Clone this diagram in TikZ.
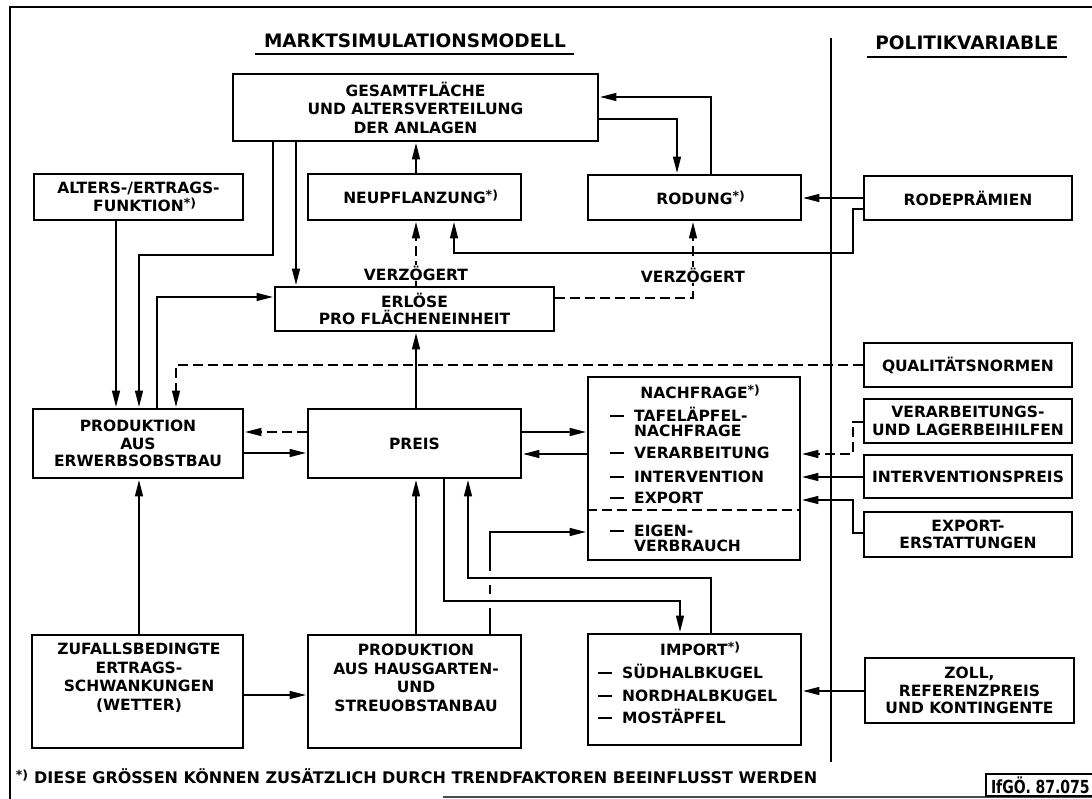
\documentclass[tikz,border=0pt]{standalone}
\usepackage{fontspec}
\setmainfont{DejaVu Sans}
\usetikzlibrary{arrows.meta}
\newcommand{\fnm}{\rlap{\raisebox{4pt}{\fontsize{12.5}{12.5}\selectfont *)}}}
\newcommand{\itm}[1]{\rule[4.5pt]{14pt}{2.4pt}\hspace{10pt}#1}
\begin{document}
\begin{tikzpicture}[x=1pt,y=-1pt,
  every node/.style={font=\bfseries\fontsize{15.5}{17.5}\selectfont, inner sep=0pt},
  box/.style={draw, line width=2.7pt, align=center},
  ln/.style={line width=2.7pt},
  arr/.style={ln, -{Triangle[length=17pt,width=7.5pt]}},
  dsh/.style={dash pattern=on 10pt off 5pt},
  ttl/.style={anchor=base, font=\bfseries\fontsize{18.5}{18.5}\selectfont},
  itm/.style={anchor=base west},
]
\useasboundingbox (0,0) rectangle (1092,799);
% frame
\draw[line width=2.7pt] (1100,7) -- (10,7) -- (10,799);
\draw[line width=2pt, black!70] (443,797) -- (1100,797);
% titles
\node[ttl] (t1) at (415,48) {MARKTSIMULATIONSMODELL};
\draw[ln] (255,54) -- (574,54);
\node[ttl] (t2) at (967,50) {POLITIKVARIABLE};
\draw[ln] (867,57) -- (1067,57);
\draw[ln] (831,38) -- (831,762);
% boxes
\node[box, minimum width=365pt, minimum height=67pt, font=\bfseries\fontsize{15.5}{18.5}\selectfont] (gesamt) at (415.5,107.5) {GESAMTFLÄCHE\\UND ALTERSVERTEILUNG\\DER ANLAGEN};
\node[box, minimum width=209pt, minimum height=46pt] (alters) at (138.5,197) {ALTERS-/ERTRAGS-\\FUNKTION\fnm};
\node[box, minimum width=213pt, minimum height=46pt] (neu) at (414.5,197) {NEUPFLANZUNG\fnm};
\node[box, minimum width=213pt, minimum height=45pt] (rodung) at (694.5,197.5) {RODUNG\fnm};
\node[box, minimum width=208pt, minimum height=44pt] (rodep) at (968,198) {RODEPRÄMIEN};
\node[box, minimum width=279pt, minimum height=44pt] (erloese) at (414.5,309) {ERLÖSE\\PRO FLÄCHENEINHEIT};
\node[box, minimum width=208pt, minimum height=44pt] (qual) at (968,365) {QUALITÄTSNORMEN};
\node[box, minimum width=210pt, minimum height=69pt] (prod) at (138,443.5) {PRODUKTION\\AUS\\ERWERBSOBSTBAU};
\node[box, minimum width=213pt, minimum height=69pt] (preis) at (414.5,443.5) {PREIS};
\node[box, minimum width=212pt, minimum height=183pt] (nach) at (694,468.5) {};
\node[box, minimum width=208pt, minimum height=44pt] (verarb) at (968,421) {VERARBEITUNGS-\\UND LAGERBEIHILFEN};
\node[box, minimum width=208pt, minimum height=43pt] (interv) at (968,476.5) {INTERVENTIONSPREIS};
\node[box, minimum width=208pt, minimum height=45pt] (export) at (968,534.5) {EXPORT-\\ERSTATTUNGEN};
\node[box, minimum width=211pt, minimum height=113pt] (zufall) at (137.5,691.5) {};
\node[box, minimum width=213pt, minimum height=113pt] (haus) at (414.5,691.5) {};
\node[box, minimum width=213pt, minimum height=111pt] (import) at (694.5,689.5) {};
\node[box, minimum width=209pt, minimum height=65pt] (zoll) at (969.5,690.5) {ZOLL,\\REFERENZPREIS\\UND KONTINGENTE};
% box contents
\node[align=center, font=\bfseries\fontsize{15.5}{18.5}\selectfont] (zufall-t) at (139,678) {ZUFALLSBEDINGTE\\ERTRAGS-\\SCHWANKUNGEN\\(WETTER)};
\node[align=center, font=\bfseries\fontsize{15.5}{18.5}\selectfont] (haus-t) at (416,678) {PRODUKTION\\AUS HAUSGARTEN-\\UND\\STREUOBSTANBAU};
\node[anchor=base] (nach-h) at (694,398.5) {NACHFRAGE\fnm};
\node[itm] (n1) at (610,421.5) {\itm{TAFELÄPFEL-}};
\node[itm] (n1b) at (634,436.5) {NACHFRAGE};
\node[itm] (n2) at (610,458.5) {\itm{VERARBEITUNG}};
\node[itm] (n3) at (610,482.5) {\itm{INTERVENTION}};
\node[itm] (n4) at (610,503.5) {\itm{EXPORT}};
\node[itm] (n5) at (610,536.5) {\itm{EIGEN-}};
\node[itm] (n5b) at (634,551.5) {VERBRAUCH};
\draw[ln, dsh] (nach.west |- 0,510) -- (nach.east |- 0,510);
\node[anchor=base] (imp-h) at (694,655.5) {IMPORT\fnm};
\node[itm] (i1) at (598,678.5) {\itm{SÜDHALBKUGEL}};
\node[itm] (i2) at (598,701.5) {\itm{NORDHALBKUGEL}};
\node[itm] (i3) at (598,723.5) {\itm{MOSTÄPFEL}};
% connectors
\draw[arr] (416,0 |- neu.north) -- (416,0 |- gesamt.south);
\draw[arr] (273,0 |- gesamt.south) -- (273,255) -- (139,255) -- (139,0 |- prod.north);
\draw[arr] (296,0 |- gesamt.south) -- (296,0 |- erloese.north);
\draw[arr] (711,0 |- rodung.north) -- (711,97) -- (gesamt.east |- 0,97);
\draw[arr] (gesamt.east |- 0,119) -- (677,119) -- (677,0 |- rodung.north);
\draw[arr] (rodep.west |- 0,198) -- (rodung.east |- 0,198);
\draw[arr] (rodep.west |- 0,209) -- (853,209) -- (853,253) -- (454,253) -- (454,0 |- neu.south);
\draw[arr,dsh] (416,0 |- erloese.north) -- (416,0 |- neu.south);
\draw[arr,dsh] (erloese.east |- 0,298) -- (693,298) -- (693,0 |- rodung.south);
\draw[arr] (157,0 |- prod.north) -- (157,297) -- (erloese.west |- 0,297);
\draw[arr] (116,0 |- alters.south) -- (116,0 |- prod.north);
\draw[arr,dsh] (qual.west |- 0,365) -- (176,365) -- (176,0 |- prod.north);
\draw[arr] (416,0 |- preis.north) -- (416,0 |- erloese.south);
\draw[arr,dsh] (preis.west |- 0,432) -- (prod.east |- 0,432);
\draw[arr] (prod.east |- 0,453) -- (preis.west |- 0,453);
\draw[arr] (preis.east |- 0,432) -- (nach.west |- 0,432);
\draw[arr] (nach.west |- 0,454) -- (preis.east |- 0,454);
\draw[arr,dsh] (verarb.west |- 0,422) -- (853,422) -- (853,454) -- (nach.east |- 0,454);
\draw[arr] (interv.west |- 0,477) -- (nach.east |- 0,477);
\draw[arr] (export.west |- 0,533) -- (853,533) -- (853,500) -- (nach.east |- 0,500);
\draw[arr] (139,0 |- zufall.north) -- (139,0 |- prod.south);
\draw[arr] (zufall.east |- 0,695) -- (haus.west |- 0,695);
\draw[arr] (416,0 |- haus.north) -- (416,0 |- preis.south);
\draw[arr] (490,0 |- haus.north) -- (490,532) -- (nach.west |- 0,532);
\fill[white] (484,571) rectangle (496,585);
\fill[white] (484,594) rectangle (496,608);
\draw[arr] (444,0 |- preis.south) -- (444,601) -- (680,601) -- (680,0 |- import.north);
\draw[arr] (711,0 |- import.north) -- (711,578) -- (468,578) -- (468,0 |- preis.south);
\draw[arr] (zoll.west |- 0,691) -- (import.east |- 0,691);
% labels
\node[fill=white, inner sep=1pt] (v1) at (416,273) {VERZÖGERT};
\node[fill=white, inner sep=1pt] (v2) at (693,275) {VERZÖGERT};
% footnote
\node[anchor=base west, font=\bfseries\fontsize{16}{16}\selectfont] (fn) at (34,783) {\llap{\raisebox{4pt}{\fontsize{12.5}{12.5}\selectfont *)}\hspace{6pt}}DIESE GRÖSSEN KÖNNEN ZUSÄTZLICH DURCH TRENDFAKTOREN BEEINFLUSST WERDEN};
\node[draw, line width=2pt, anchor=west, minimum height=22pt, text width=110pt, inner xsep=5pt, font=\bfseries\fontsize{18}{18}\selectfont] (id) at (985,785) {\scalebox{0.78}[1]{IfGÖ. 87.075}};
\end{tikzpicture}
\end{document}
